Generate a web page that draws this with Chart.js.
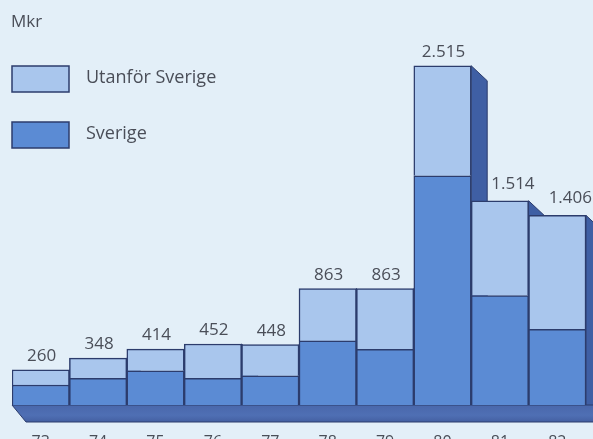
<!DOCTYPE html>
<html><head><meta charset="utf-8">
<script src="https://cdn.jsdelivr.net/npm/chart.js@4/dist/chart.umd.min.js"></script>
<style>
html,body{margin:0;padding:0;background:#e3eff8;}
#wrap{width:593px;height:439px;position:relative;}
</style></head>
<body><div id="wrap"><canvas id="c" width="593" height="439"></canvas></div>
<script>
const years = ['73','74','75','76','77','78','79','80','81','82'];
const totals = [260, 348, 414, 452, 448, 863, 863, 2515, 1514, 1406];
const sverige = [148, 198, 254, 198, 217, 475, 413, 1699, 811, 561];
const utanfor = totals.map((t, i) => t - sverige[i]);
const unitLabel = 'Mkr';
const seriesNames = ['Sverige', 'Utanför Sverige'];

const FONT = '"Open Sans", sans-serif';
const TEXT = '#4a4e58';
const EDGE = '#2c3c6c';
const LIGHT = '#a9c6ed';
const DARK = '#5b8bd4';
const SIDE = '#3f5fa4';
const FLOOR = '#4f6fb4';
const DX = 16, DY = 15;

const fmt = v => v >= 1000 ? Math.floor(v/1000) + '.' + String(v % 1000).padStart(3, '0') : String(v);

const deco = {
  id: 'deco',
  beforeDatasetsDraw(chart) {
    const ctx = chart.ctx;
    const ys = chart.scales.y;
    const meta = chart.getDatasetMeta(1);
    const base = ys.getPixelForValue(0);
    const first = meta.data[0], last = meta.data[meta.data.length - 1];
    const L = first.x - first.width / 2, R = last.x + last.width / 2;
    ctx.save();
    ctx.lineJoin = 'round';
    // side faces
    meta.data.forEach((bar, i) => {
      const r = bar.x + bar.width / 2;
      const top = ys.getPixelForValue(totals[i]);
      ctx.beginPath();
      ctx.moveTo(r, top); ctx.lineTo(r + DX, top + DY); ctx.lineTo(r + DX, base + 1); ctx.lineTo(r, base + 1);
      ctx.closePath();
      ctx.fillStyle = SIDE; ctx.fill();
      ctx.strokeStyle = EDGE; ctx.lineWidth = 1; ctx.stroke();
    });
    // floor slab
    const B = base + DY + 2;
    ctx.beginPath();
    ctx.moveTo(L, base); ctx.lineTo(R + DX, base); ctx.lineTo(R + DX, B); ctx.lineTo(L + DX - 2, B); ctx.closePath();
    ctx.fillStyle = FLOOR; ctx.fill();
    const g = ctx.createLinearGradient(0, base, 0, B);
    g.addColorStop(0, 'rgba(40,60,120,0.15)');
    g.addColorStop(0.6, 'rgba(40,60,120,0)');
    g.addColorStop(1, 'rgba(30,45,100,0.25)');
    ctx.fillStyle = g; ctx.fill();
    ctx.strokeStyle = EDGE; ctx.lineWidth = 1; ctx.stroke();
    ctx.restore();
  },
  afterDatasetsDraw(chart) {
    const ctx = chart.ctx;
    const ys = chart.scales.y;
    const meta = chart.getDatasetMeta(1);
    ctx.save();
    ctx.fillStyle = TEXT;
    ctx.font = '17px ' + FONT;
    ctx.textAlign = 'center';
    ctx.textBaseline = 'alphabetic';
    meta.data.forEach((bar, i) => {
      const top = ys.getPixelForValue(totals[i]);
      const stepDown = i > 0 && totals[i - 1] - totals[i] > 100;
      const x = bar.x + 1 + (stepDown ? 12 : 0);
      const y = top - 9 - (stepDown ? 3 : 0);
      ctx.fillText(fmt(totals[i]), x, y);
    });
    // unit
    ctx.textAlign = 'left';
    ctx.font = '17px ' + FONT;
    ctx.textBaseline = 'middle';
    ctx.fillText(unitLabel, 11, 22);
    // legend
    const items = [
      {label: chart.data.datasets[1].label, color: chart.data.datasets[1].backgroundColor, y: 66},
      {label: chart.data.datasets[0].label, color: chart.data.datasets[0].backgroundColor, y: 122}
    ];
    ctx.font = '18px ' + FONT;
    items.forEach(it => {
      ctx.fillStyle = it.color;
      ctx.fillRect(12, it.y, 57, 26);
      ctx.strokeStyle = EDGE; ctx.lineWidth = 1.5;
      ctx.strokeRect(12, it.y, 57, 26);
      ctx.fillStyle = TEXT;
      ctx.fillText(it.label, 86, it.y + 12);
    });
    ctx.restore();
  }
};

new Chart(document.getElementById('c'), {
  type: 'bar',
  data: {
    labels: years,
    datasets: [
      {label: seriesNames[0], data: sverige, backgroundColor: DARK, borderColor: EDGE, borderWidth: 1.5, stack: 's'},
      {label: seriesNames[1], data: utanfor, backgroundColor: LIGHT, borderColor: EDGE, borderWidth: 1.5, stack: 's'}
    ]
  },
  options: {
    responsive: false,
    animation: false,
    layout: {padding: {left: 12, right: 7, top: 30, bottom: 0}},
    plugins: {legend: {display: false}, tooltip: {enabled: false}},
    datasets: {bar: {categoryPercentage: 1, barPercentage: 1}},
    scales: {
      x: {
        stacked: true,
        grid: {display: false},
        border: {display: false},
        ticks: {color: TEXT, font: {family: FONT, size: 16}, padding: 20, maxRotation: 0},
        afterFit: a => { a.height = 34; }
      },
      y: {stacked: true, display: false, min: 0, max: 2780}
    }
  },
  plugins: [deco]
});
</script>
</body></html>
